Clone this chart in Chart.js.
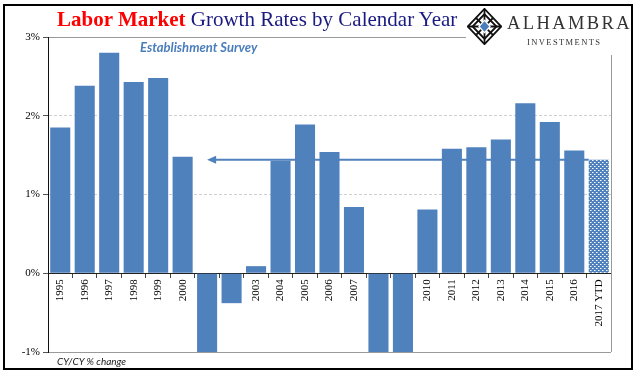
<!DOCTYPE html>
<html>
<head>
<meta charset="utf-8">
<script src="https://cdn.jsdelivr.net/npm/chart.js@4.4.0/dist/chart.umd.min.js"></script>
<style>
  body { margin: 0; background: #fff; }
  #wrap { position: relative; width: 640px; height: 374px; overflow: hidden; }
  #frame { position: absolute; left: 3px; top: 4px; width: 626px; height: 362px; border: 2px solid #000; pointer-events: none; }
  #title { position: absolute; left: 57px; top: 7px; font-family: "Liberation Serif", serif; font-size: 21px; color: #1a1a80; white-space: nowrap; }
  #title b { color: #ff0000; }
  #logo { position: absolute; left: 466px; top: 6px; width: 163px; height: 49px; background: #fff; }
  #logo svg { position: absolute; left: 1px; top: 2px; }
  #brand { position: absolute; left: 41px; top: 7px; font-family: "Liberation Serif", serif; font-size: 18.5px; color: #333; letter-spacing: 2.4px; }
  #inv { position: absolute; left: 61px; top: 31px; font-family: "Liberation Serif", serif; font-size: 8.5px; color: #333; letter-spacing: 1.4px; }
  #sub { position: absolute; left: 140px; top: 39px; font-family: Lato, sans-serif; font-style: italic; font-weight: bold; font-size: 13px; color: #4a7ebb; }
  #note { position: absolute; left: 57px; top: 355px; font-family: Lato, sans-serif; font-style: italic; font-size: 10px; color: #222; }
</style>
</head>
<body>
<div id="wrap">
  <canvas id="chart" width="640" height="374"></canvas>
  <div id="logo">
    <svg width="35" height="37" viewBox="0 0 44 42" preserveAspectRatio="none">
      <g fill="none" stroke="#111" stroke-width="2.2">
        <polygon points="22,1 43,21 22,41 1,21"/>
        <polygon points="22,7 37,21 22,35 7,21"/>
        <line x1="11" y1="11" x2="33" y2="31"/>
        <line x1="33" y1="11" x2="11" y2="31"/>
        <line x1="22" y1="1" x2="22" y2="41"/>
        <line x1="1" y1="21" x2="43" y2="21"/>
      </g>
      <polygon points="22,14 29,21 22,28 15,21" fill="#4a7ebb" stroke="#fff" stroke-width="1.5"/>
    </svg>
    <div id="brand">ALHAMBRA</div>
    <div id="inv">INVESTMENTS</div>
  </div>
  <div id="title"><b>Labor Market</b> Growth Rates by Calendar Year</div>
  <div id="sub">Establishment Survey</div>
  <div id="note">CY/CY % change</div>
  <div id="frame"></div>
</div>
<script>
const years = ['1995','1996','1997','1998','1999','2000','2001','2002','2003','2004','2005','2006',
  '2007','2008','2009','2010','2011','2012','2013','2014','2015','2016','2017 YTD'];
const growth = [1.85, 2.38, 2.80, 2.43, 2.48, 1.48, -1.3, -0.38, 0.09, 1.43, 1.89, 1.54,
  0.84, -2.6, -3.9, 0.81, 1.58, 1.60, 1.70, 2.16, 1.92, 1.56, 1.44];
const yTicks = [-1, 0, 1, 2, 3];
const arrowFrom = '2001';
const arrowTo = '2017 YTD';

const blue = '#4f81bd';

// dotted fill for the partial year
function dotPattern() {
  const c = document.createElement('canvas');
  c.width = 4; c.height = 4;
  const g = c.getContext('2d');
  g.fillStyle = blue;
  g.fillRect(0, 0, 4, 4);
  g.fillStyle = '#ffffff';
  g.fillRect(0, 0, 1, 1);
  g.fillRect(2, 2, 1, 1);
  g.fillStyle = '#a9c1e0';
  g.fillRect(1, 0, 1, 1);
  g.fillRect(3, 2, 1, 1);
  return g.createPattern(c, 'repeat');
}

const ctx = document.getElementById('chart').getContext('2d');
const pat = dotPattern();

const rightEdge = {
  id: 'rightEdge',
  beforeDatasetsDraw(chart) {
    const a = chart.chartArea, c = chart.ctx;
    c.save();
    c.strokeStyle = '#999';
    c.lineWidth = 1;
    c.beginPath();
    c.moveTo(a.right + 0.5, a.top);
    c.lineTo(a.right + 0.5, a.bottom);
    c.stroke();
    c.restore();
  }
};

const arrow = {
  id: 'arrow',
  afterDatasetsDraw(chart) {
    const x = chart.scales.x, y = chart.scales.y, c = chart.ctx;
    const i0 = years.indexOf(arrowFrom), i1 = years.indexOf(arrowTo);
    const bar = chart.getDatasetMeta(0).data[i1];
    const x0 = x.getPixelForValue(i0);
    const x1 = bar.x - bar.width / 2;
    const yy = y.getPixelForValue(growth[i1]);
    c.save();
    c.strokeStyle = blue;
    c.fillStyle = blue;
    c.lineWidth = 2;
    c.beginPath();
    c.moveTo(x0 + 8, yy);
    c.lineTo(x1, yy);
    c.stroke();
    c.beginPath();
    c.moveTo(x0, yy);
    c.lineTo(x0 + 9, yy - 4);
    c.lineTo(x0 + 9, yy + 4);
    c.closePath();
    c.fill();
    c.restore();
  }
};

new Chart(ctx, {
  type: 'bar',
  data: {
    labels: years,
    datasets: [{
      data: growth,
      backgroundColor: years.map((y, i) => i === years.length - 1 ? pat : blue),
      barPercentage: 0.82,
      categoryPercentage: 1.0
    }]
  },
  options: {
    responsive: false,
    animation: false,
    layout: { padding: { top: 37, right: 29, bottom: 22, left: 0 } },
    plugins: { legend: { display: false }, tooltip: { enabled: false } },
    scales: {
      x: {
        position: { y: 0 },
        grid: { display: true, drawOnChartArea: false, drawTicks: true, tickLength: 4, offset: true, color: '#444' },
        border: { display: true, color: '#222', width: 1 },
        ticks: {
          autoSkip: false, minRotation: 90, maxRotation: 90, padding: 2,
          color: '#000', font: { family: 'Liberation Serif', size: 11 }
        }
      },
      y: {
        min: -1, max: 3,
        afterBuildTicks: (s) => { s.ticks = yTicks.map(v => ({ value: v })); },
        afterFit: (s) => { s.width = 48; },
        grid: {
          drawTicks: true, tickLength: 5,
          color: (c) => {
            const v = c.tick ? c.tick.value : null;
            if (v === 0) return 'rgba(0,0,0,0)';
            if (v === 3 || v === -1) return '#999';
            return '#cfcfcf';
          },
          tickColor: '#555'
        },
        border: {
          display: true, color: '#111', width: 1,
          dash: (c) => {
            const v = c.tick ? c.tick.value : null;
            return (v === 1 || v === 2) ? [3, 2] : [];
          }
        },
        ticks: {
          padding: 3,
          color: '#000', font: { family: 'Liberation Serif', size: 11 },
          callback: (v) => v + '%'
        }
      }
    }
  },
  plugins: [rightEdge, arrow]
});
</script>
</body>
</html>
